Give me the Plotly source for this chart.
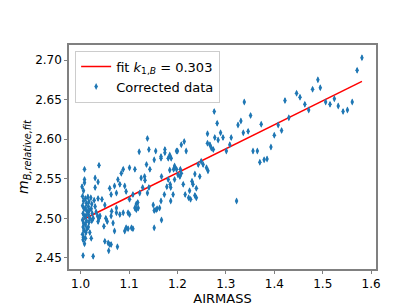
import numpy as np
import plotly.graph_objects as go

airmass = [
    # dense cluster near airmass 1.0
    1.004, 1.006, 1.004, 1.007, 1.005, 1.008, 1.004, 1.006, 1.005, 1.007, 1.004, 1.006, 1.005, 1.008, 1.005,
    1.010, 1.012, 1.010, 1.013, 1.011, 1.012, 1.010, 1.013, 1.011, 1.010,
    1.015, 1.017, 1.016, 1.018, 1.016, 1.019, 1.017, 1.016, 1.019, 1.022,
    1.021, 1.023, 1.022, 1.024, 1.026, 1.023, 1.026, 1.028, 1.030, 1.032, 1.035, 1.036, 1.038, 1.040,
    1.008, 1.008, 1.008, 1.038, 1.030, 1.030, 1.036, 1.036, 1.044, 1.050, 1.064, 1.074, 1.003, 1.006,
    # 1.04 - 1.12
    1.050, 1.057, 1.060, 1.063, 1.058, 1.076, 1.048, 1.052, 1.055, 1.063, 1.067, 1.070,
    1.074, 1.081, 1.088, 1.098, 1.101, 1.094, 1.091, 1.098, 1.105, 1.108, 1.115, 1.119,
    1.077, 1.081, 1.070, 1.074, 1.060, 1.063, 1.091, 1.094, 1.108, 1.101, 1.115, 1.112, 1.118,
    1.101, 1.088, 1.084, 1.112, 1.138, 1.141, 1.121, 1.155,
    # 1.12 - 1.20
    1.136, 1.143, 1.125, 1.132, 1.122, 1.128, 1.133, 1.141, 1.138, 1.150, 1.156, 1.163, 1.166, 1.173,
    1.152, 1.152, 1.158, 1.167, 1.174, 1.174, 1.166, 1.166, 1.152, 1.184, 1.187, 1.198,
    1.178, 1.185, 1.194, 1.192, 1.194, 1.167,
    # 1.18 - 1.30
    1.184, 1.181, 1.186, 1.191, 1.186, 1.181, 1.194, 1.198, 1.206,
    1.200, 1.208, 1.214, 1.218, 1.243, 1.249, 1.253, 1.260, 1.263, 1.246, 1.236, 1.232, 1.230, 1.239,
    1.225, 1.223, 1.227, 1.216, 1.236, 1.239, 1.212, 1.205, 1.208, 1.201,
    1.276, 1.282, 1.262, 1.289, 1.294, 1.277, 1.284, 1.267, 1.270, 1.274, 1.262,
    1.311, 1.308, 1.301, 1.322,
    # 1.30 - 1.58
    1.338, 1.325, 1.331, 1.336, 1.346, 1.351, 1.373, 1.356, 1.365, 1.370, 1.379, 1.385, 1.393,
    1.400, 1.408, 1.415, 1.422, 1.430, 1.446, 1.453, 1.463, 1.471, 1.479, 1.490, 1.495,
    1.506, 1.515, 1.524, 1.532, 1.542, 1.551, 1.561, 1.571, 1.581,
]

mag = [
    2.528, 2.522, 2.516, 2.512, 2.506, 2.502, 2.498, 2.494, 2.489, 2.485, 2.480, 2.476, 2.473, 2.468, 2.453,
    2.525, 2.519, 2.513, 2.509, 2.503, 2.497, 2.492, 2.487, 2.482, 2.475,
    2.527, 2.521, 2.515, 2.510, 2.505, 2.500, 2.495, 2.489, 2.482, 2.475,
    2.526, 2.518, 2.512, 2.506, 2.500, 2.497, 2.452, 2.523, 2.515, 2.508, 2.503, 2.496, 2.500, 2.503,
    2.562, 2.549, 2.545, 2.567, 2.551, 2.539, 2.546, 2.525, 2.524, 2.517, 2.509, 2.513, 2.540, 2.535,
    2.471, 2.469, 2.467, 2.467, 2.459, 2.464, 2.490, 2.500, 2.496, 2.503, 2.494, 2.484,
    2.507, 2.505, 2.507, 2.507, 2.505, 2.488, 2.484, 2.487, 2.488, 2.487, 2.511, 2.513,
    2.549, 2.543, 2.541, 2.532, 2.538, 2.530, 2.541, 2.534, 2.530, 2.524, 2.518, 2.513, 2.520,
    2.564, 2.562, 2.557, 2.562, 2.601, 2.587, 2.584, 2.585,
    2.568, 2.562, 2.551, 2.553, 2.532, 2.539, 2.548, 2.539, 2.532, 2.517, 2.511, 2.513, 2.522, 2.530,
    2.574, 2.510, 2.512, 2.498, 2.587, 2.583, 2.576, 2.578, 2.488, 2.580, 2.576, 2.585,
    2.540, 2.543, 2.549, 2.562, 2.564, 2.553,
    2.561, 2.549, 2.539, 2.530, 2.522, 2.576, 2.566, 2.562, 2.562,
    2.585, 2.593, 2.597, 2.585, 2.568, 2.572, 2.568, 2.564, 2.560, 2.553, 2.556, 2.543, 2.547, 2.538,
    2.535, 2.526, 2.524, 2.530, 2.529, 2.526, 2.543, 2.553, 2.557, 2.555,
    2.635, 2.620, 2.607, 2.608, 2.602, 2.602, 2.599, 2.593, 2.589, 2.587, 2.595,
    2.602, 2.593, 2.585, 2.522,
    2.647, 2.618, 2.623, 2.608, 2.610, 2.630, 2.619, 2.585, 2.585, 2.571, 2.574, 2.575, 2.590,
    2.605, 2.618, 2.611, 2.649, 2.627, 2.658, 2.653, 2.644, 2.637, 2.663, 2.675, 2.665,
    2.647, 2.644, 2.651, 2.642, 2.635, 2.637, 2.647, 2.687, 2.703,
]

mag_err = [0.003] * len(mag)

k1 = 0.303
intercept = 2.194

x_fit = np.array([min(airmass), max(airmass)])
y_fit = intercept + k1 * x_fit

fig = go.Figure()
fig.add_trace(go.Scatter(
    x=x_fit, y=y_fit, mode="lines",
    line=dict(color="red", width=1.5),
    name="fit <i>k</i><sub>1,<i>B</i></sub> = 0.303",
))
fig.add_trace(go.Scatter(
    x=airmass, y=mag, mode="markers",
    marker=dict(symbol="diamond-tall", size=5, color="#1f77b4"),
    error_y=dict(type="data", array=mag_err, visible=True, color="#1f77b4", thickness=1.3, width=0),
    name="Corrected data",
))

axis_common = dict(
    showgrid=False, zeroline=False, showline=True, mirror=True,
    linecolor="#808080", linewidth=1.5,
    ticks="outside", ticklen=3, tickwidth=1, tickcolor="#808080",
    tickfont=dict(family="DejaVu Sans", size=12, color="black"),
)

fig.update_layout(
    width=409, height=307,
    margin=dict(l=61, r=41, t=37, b=46),
    plot_bgcolor="white", paper_bgcolor="white",
    font=dict(family="DejaVu Sans", size=12, color="black"),
    xaxis=dict(range=[0.976, 1.610], tickvals=[1.0, 1.1, 1.2, 1.3, 1.4, 1.5, 1.6],
               ticktext=["1.0", "1.1", "1.2", "1.3", "1.4", "1.5", "1.6"],
               title=dict(text="AIRMASS", font=dict(family="DejaVu Sans", size=13), standoff=3),
               **axis_common),
    yaxis=dict(range=[2.436, 2.719], tickvals=[2.45, 2.50, 2.55, 2.60, 2.65, 2.70],
               ticktext=["2.45", "2.50", "2.55", "2.60", "2.65", "2.70"],
               title=dict(text="<i>m</i><sub><i>B,relative,fit</i></sub>",
                          font=dict(family="DejaVu Sans", size=14), standoff=3),
               **axis_common),
    legend=dict(x=0.02, y=0.975, xanchor="left", yanchor="top",
                bgcolor="rgba(255,255,255,0.8)", bordercolor="#cccccc", borderwidth=1,
                font=dict(family="DejaVu Sans", size=13), itemwidth=30,
                tracegroupgap=0),
    showlegend=True,
)

fig.write_html("out.html")
